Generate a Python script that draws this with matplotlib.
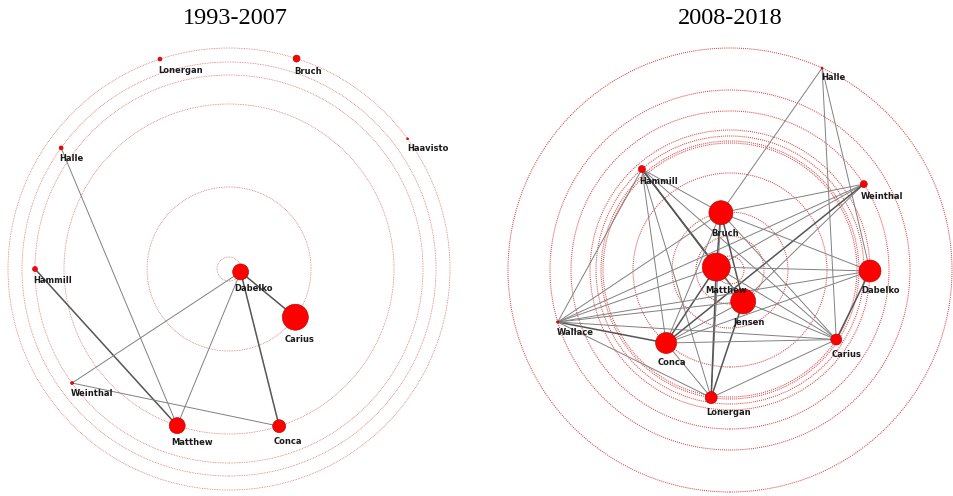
import numpy as np
import matplotlib.pyplot as plt
from matplotlib.patches import Circle

# --- Rede 1993-2007 (layout concentrico: raio do anel e angulo em graus) ---
nomes_1 = ["Lonergan", "Bruch", "Haavisto", "Halle", "Hammill", "Weinthal",
           "Matthew", "Conca", "Carius", "Dabelko"]
raio_1 = [221, 221, 221, 207, 194, 194, 165, 165, 82, 12]
angulo_1 = [108.2, 72.2, 36.1, 144.2, 180.0, 216.0, 251.7, 287.7, 324.0, 346.0]
tamanho_1 = [2, 3.5, 1, 2, 2.5, 1.5, 8, 6.5, 13, 8]
arestas_1 = [("Halle", "Matthew", 1), ("Hammill", "Matthew", 2),
             ("Weinthal", "Dabelko", 1), ("Weinthal", "Conca", 1),
             ("Dabelko", "Matthew", 1), ("Dabelko", "Conca", 2),
             ("Dabelko", "Carius", 2)]

# --- Rede 2008-2018 ---
nomes_2 = ["Halle", "Wallace", "Weinthal", "Dabelko", "Hammill", "Lonergan",
           "Carius", "Conca", "Bruch", "Jensen", "Matthew"]
raio_2 = [222, 180, 159, 140, 134, 129, 127, 97, 58, 34, 14]
angulo_2 = [65.5, 196.8, 32.7, 359.6, 131.1, 261.6, 326.8, 228.8, 99.0, 292.8, 168.0]
tamanho_2 = [1, 1.2, 3.5, 11, 3.5, 6, 5.5, 10.5, 12, 12.5, 14]
arestas_2 = [("Halle", "Bruch", 1), ("Halle", "Dabelko", 1), ("Halle", "Carius", 1),
             ("Hammill", "Bruch", 1), ("Hammill", "Matthew", 2), ("Hammill", "Jensen", 2),
             ("Hammill", "Conca", 1), ("Hammill", "Lonergan", 1), ("Hammill", "Carius", 1),
             ("Hammill", "Wallace", 1),
             ("Weinthal", "Bruch", 1), ("Weinthal", "Matthew", 1), ("Weinthal", "Jensen", 1),
             ("Weinthal", "Conca", 2), ("Weinthal", "Wallace", 1),
             ("Bruch", "Matthew", 2), ("Bruch", "Jensen", 2), ("Bruch", "Conca", 1),
             ("Bruch", "Dabelko", 1), ("Bruch", "Carius", 1), ("Bruch", "Wallace", 1),
             ("Bruch", "Lonergan", 1),
             ("Matthew", "Dabelko", 1), ("Matthew", "Jensen", 1), ("Matthew", "Conca", 2),
             ("Matthew", "Lonergan", 2), ("Matthew", "Carius", 1), ("Matthew", "Wallace", 1),
             ("Jensen", "Conca", 1), ("Jensen", "Lonergan", 2), ("Jensen", "Carius", 1),
             ("Jensen", "Wallace", 1),
             ("Dabelko", "Conca", 1), ("Dabelko", "Carius", 2), ("Dabelko", "Wallace", 1),
             ("Conca", "Carius", 1), ("Conca", "Wallace", 2), ("Conca", "Lonergan", 1),
             ("Carius", "Wallace", 1), ("Carius", "Lonergan", 1), ("Wallace", "Lonergan", 1)]

titulos = ["1993-2007", "2008-2018"]


def desenha_rede(ax, nomes, raios, angulos, tamanhos, arestas, cor_anel, lw_anel):
    ang = np.radians(angulos)
    xs = np.array(raios) * np.cos(ang)
    ys = np.array(raios) * np.sin(ang)
    pos = {n: (x, y) for n, x, y in zip(nomes, xs, ys)}

    # aneis concentricos (um por raio distinto)
    for r in sorted(set(raios)):
        ax.add_patch(Circle((0, 0), r, fill=False, edgecolor=cor_anel,
                            linewidth=lw_anel, linestyle=(0, (1, 1)), zorder=1))

    # arestas
    for a, b, peso in arestas:
        (x0, y0), (x1, y1) = pos[a], pos[b]
        ax.plot([x0, x1], [y0, y1], color='#555555' if peso > 1 else '#808080',
                linewidth=1.1 if peso > 1 else 0.7, zorder=2, solid_capstyle='round')

    # nos e rotulos
    for n, t in zip(nomes, tamanhos):
        x, y = pos[n]
        ax.add_patch(Circle((x, y), t, facecolor='#ff0000', edgecolor='#b00000',
                            linewidth=0.4, zorder=3))
        ax.text(x - 0.8 * t, y - t - 9, n, fontsize=6.0, fontweight='bold',
                color='#1a1a1a', ha='left', va='center', zorder=4)


fig = plt.figure(figsize=(9.54, 4.96), dpi=100)

# eixos: 1 unidade = 1 pixel, centro de cada rede em (229,269) e (730,270)
ax1 = fig.add_axes([0, 0, 0.5, 1])
ax1.set_xlim(-229, 248)
ax1.set_ylim(-227, 269)
ax2 = fig.add_axes([0.5, 0, 0.5, 1])
ax2.set_xlim(-253, 224)
ax2.set_ylim(-226, 270)

desenha_rede(ax1, nomes_1, raio_1, angulo_1, tamanho_1, arestas_1, '#e07a7a', 0.6)
desenha_rede(ax2, nomes_2, raio_2, angulo_2, tamanho_2, arestas_2, '#d84848', 0.75)

for ax in (ax1, ax2):
    ax.set_aspect('equal')
    ax.axis('off')

fig.text(235 / 954, 1 - 18 / 496, titulos[0], fontsize=17.5, family='Liberation Serif',
         ha='center', va='center')
fig.text(730 / 954, 1 - 18 / 496, titulos[1], fontsize=17.5, family='Liberation Serif',
         ha='center', va='center')

fig.savefig('out.png', dpi=100)
